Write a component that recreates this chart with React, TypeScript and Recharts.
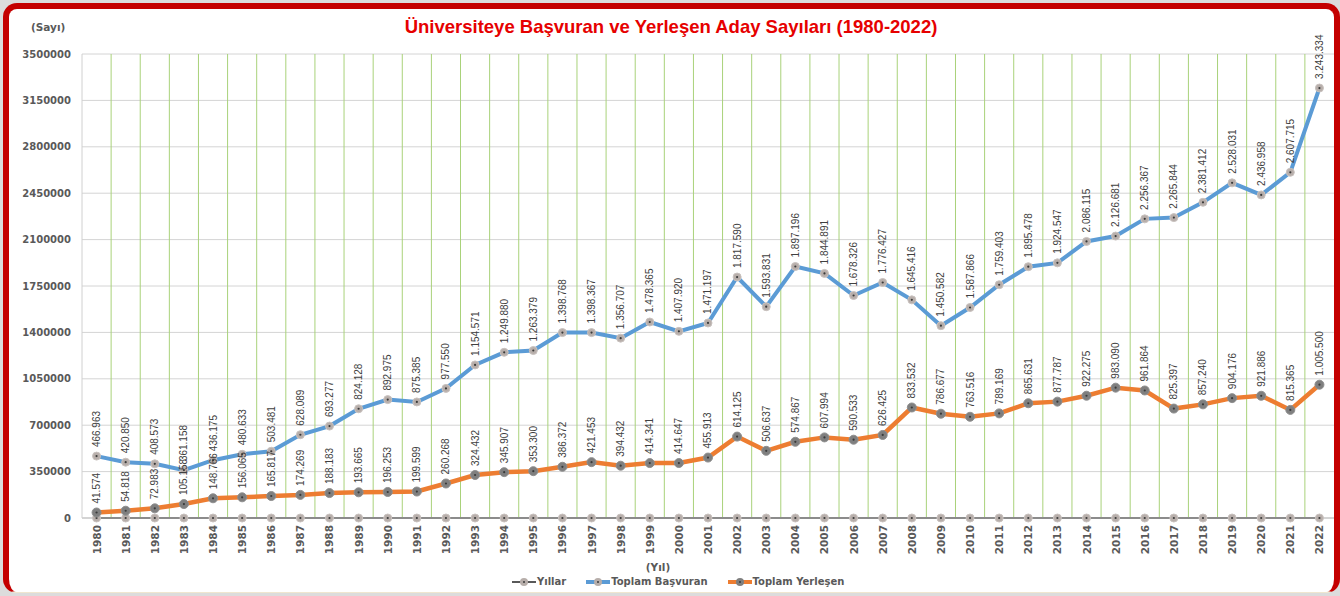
import React from 'react';
import { LineChart, Line, XAxis, YAxis, CartesianGrid } from 'recharts';

const years = [
  '1980', '1981', '1982', '1983', '1984', '1985', '1986', '1987', '1988', '1989',
  '1990', '1991', '1992', '1993', '1994', '1995', '1996', '1997', '1998', '1999',
  '2000', '2001', '2002', '2003', '2004', '2005', '2006', '2007', '2008', '2009',
  '2010', '2011', '2012', '2013', '2014', '2015', '2016', '2017', '2018', '2019',
  '2020', '2021', '2022',
];

const yillarValues = [
  0, 0, 0, 0, 0, 0, 0, 0, 0, 0,
  0, 0, 0, 0, 0, 0, 0, 0, 0, 0,
  0, 0, 0, 0, 0, 0, 0, 0, 0, 0,
  0, 0, 0, 0, 0, 0, 0, 0, 0, 0,
  0, 0, 0,
];

const toplamBasvuran = [
  466963, 420850, 408573, 361158, 436175, 480633, 503481, 628089, 693277, 824128,
  892975, 875385, 977550, 1154571, 1249880, 1263379, 1398768, 1398367, 1356707, 1478365,
  1407920, 1471197, 1817590, 1593831, 1897196, 1844891, 1678326, 1776427, 1645416, 1450582,
  1587866, 1759403, 1895478, 1924547, 2086115, 2126681, 2256367, 2265844, 2381412, 2528031,
  2436958, 2607715, 3243334,
];

const toplamYerlesen = [
  41574, 54818, 72983, 105158, 148766, 156065, 165817, 174269, 188183, 193665,
  196253, 199599, 260268, 324432, 345907, 353300, 386372, 421453, 394432, 414341,
  414647, 455913, 614125, 506637, 574867, 607994, 590533, 626425, 833532, 786677,
  763516, 789169, 865631, 877787, 922275, 983090, 961864, 825397, 857240, 904176,
  921886, 815365, 1005500,
];

const yTicks = [0, 350000, 700000, 1050000, 1400000, 1750000, 2100000, 2450000, 2800000, 3150000, 3500000];

const title = 'Üniversiteye Başvuran ve Yerleşen Aday Sayıları (1980-2022)';
const yAxisTitle = '(Sayı)';
const xAxisTitle = '(Yıl)';
const seriesNames = ['Yıllar', 'Toplam Başvuran', 'Toplam Yerleşen'];

const data = years.map((y, i) => ({
  year: y,
  yillar: yillarValues[i],
  basvuran: toplamBasvuran[i],
  yerlesen: toplamYerlesen[i],
}));

const BOLD_FONT = '"DejaVu Sans", Verdana, sans-serif';
const LABEL_FONT = '"Liberation Sans", Arial, sans-serif';

const fmt = (v: number) => String(v).replace(/\B(?=(\d{3})+(?!\d))/g, '.');

const makeDot = (fill: string, r: number, stroke: string) => (props: any) => {
  const { cx, cy, index } = props;
  if (cx == null || cy == null) return <g key={`e-${index}`} />;
  return (
    <g key={`d-${fill}-${index}`}>
      <circle cx={cx} cy={cy} r={r} fill={fill} stroke={stroke} strokeWidth={1} />
      <circle cx={cx} cy={cy} r={1.1} fill="#3a3a3a" />
    </g>
  );
};

const renderValueLabel = (props: any) => {
  const { x, y, value, index } = props;
  if (x == null || y == null) return null;
  const ly = y - 9;
  return (
    <text
      key={`l-${index}-${value}`}
      x={x}
      y={ly}
      transform={`rotate(-90, ${x}, ${ly})`}
      textAnchor="start"
      dominantBaseline="central"
      fontFamily={LABEL_FONT}
      fontSize={10}
      fill="#404040"
    >
      {fmt(Number(value))}
    </text>
  );
};

const XTick = (props: any) => {
  const { x, payload } = props;
  const ty = 525;
  return (
    <text
      x={x}
      y={ty}
      transform={`rotate(-90, ${x}, ${ty})`}
      textAnchor="end"
      dominantBaseline="central"
      fontFamily={BOLD_FONT}
      fontWeight="bold"
      fontSize={10.5}
      fill="#595959"
    >
      {payload.value}
    </text>
  );
};

const YTick = (props: any) => {
  const { y, payload } = props;
  return (
    <text
      x={71}
      y={y}
      textAnchor="end"
      dominantBaseline="central"
      fontFamily={BOLD_FONT}
      fontWeight="bold"
      fontSize={10}
      fill="#595959"
    >
      {payload.value}
    </text>
  );
};

const verticalGen = (args: any) => {
  const off = args && args.offset ? args.offset : { left: 82, width: 1252 };
  const n = years.length;
  const out: number[] = [];
  for (let k = 1; k < n; k++) out.push(off.left + (off.width * k) / n);
  return out;
};

const LegendMarker = ({ color, fill, thick }: { color: string; fill: string; thick: number }) => (
  <svg width={24} height={12} style={{ display: 'block' }}>
    <line x1={0} y1={6} x2={24} y2={6} stroke={color} strokeWidth={thick} />
    <circle cx={12} cy={6} r={4} fill={fill} />
    <circle cx={12} cy={6} r={1} fill="#3a3a3a" />
  </svg>
);

export default function App() {
  const legendItems = [
    { name: seriesNames[0], color: '#595959', fill: '#b7aeaa', thick: 2 },
    { name: seriesNames[1], color: '#5b9bd5', fill: '#b7aeaa', thick: 4 },
    { name: seriesNames[2], color: '#ed7d31', fill: '#7f7f7f', thick: 4 },
  ];
  return (
    <div
      style={{
        position: 'absolute',
        left: 0,
        top: 0,
        width: 1340,
        height: 596,
        background: '#dcdcdc',
        overflow: 'hidden',
      }}
    >
      <div
        style={{
          position: 'absolute',
          left: 3,
          top: 3,
          width: 1337,
          height: 590,
          boxSizing: 'border-box',
          border: '6px solid #c40000',
          borderBottom: '1px solid #f0e6d0',
          borderRadius: 14,
          background: '#ffffff',
        }}
      />
      <div
        style={{
          position: 'absolute',
          left: 0,
          width: 1342,
          top: 16,
          textAlign: 'center',
          fontFamily: '"Liberation Sans", Arial, sans-serif',
          fontWeight: 'bold',
          fontSize: 18.5,
          color: '#e60000',
          whiteSpace: 'nowrap',
          lineHeight: '22px',
        }}
      >
        {title}
      </div>
      <div
        style={{
          position: 'absolute',
          left: 31,
          top: 20,
          fontFamily: BOLD_FONT,
          fontWeight: 'bold',
          fontSize: 10.5,
          color: '#595959',
          lineHeight: '14px',
        }}
      >
        {yAxisTitle}
      </div>
      <div style={{ position: 'absolute', left: 0, top: 0 }}>
        <LineChart
          width={1340}
          height={596}
          data={data}
          margin={{ top: 54, right: 6, bottom: 0, left: 0 }}
        >
          <CartesianGrid vertical={false} stroke="#d4d4d4" strokeWidth={1} />
          <CartesianGrid
            horizontal={false}
            stroke="#a9d27a"
            strokeWidth={1}
            verticalCoordinatesGenerator={verticalGen}
          />
          <XAxis
            dataKey="year"
            height={78}
            interval={0}
            padding={{ left: 14.56, right: 14.56 }}
            tickLine={false}
            tickSize={0}
            axisLine={{ stroke: '#bfbfbf' }}
            tick={<XTick />}
          />
          <YAxis
            width={82}
            domain={[0, 3500000]}
            ticks={yTicks}
            interval={0}
            tickLine={false}
            tickSize={0}
            tickMargin={11}
            axisLine={{ stroke: '#d0d0d0' }}
            tick={<YTick />}
          />
          <Line
            type="linear"
            dataKey="yillar"
            name={seriesNames[0]}
            stroke="#595959"
            strokeWidth={1.8}
            dot={makeDot('#b7aeaa', 4, '#c9c2bf')}
            activeDot={false}
            isAnimationActive={false}
          />
          <Line
            type="linear"
            dataKey="basvuran"
            name={seriesNames[1]}
            stroke="#5b9bd5"
            strokeWidth={4}
            dot={makeDot('#b7aeaa', 4, '#c9c2bf')}
            activeDot={false}
            label={renderValueLabel}
            isAnimationActive={false}
          />
          <Line
            type="linear"
            dataKey="yerlesen"
            name={seriesNames[2]}
            stroke="#ed7d31"
            strokeWidth={4.5}
            dot={makeDot('#7f7f7f', 4.5, '#8f8f8f')}
            activeDot={false}
            label={renderValueLabel}
            isAnimationActive={false}
          />
        </LineChart>
      </div>
      <div
        style={{
          position: 'absolute',
          left: 658,
          top: 560,
          width: 100,
          marginLeft: -50,
          textAlign: 'center',
          fontFamily: BOLD_FONT,
          fontWeight: 'bold',
          fontSize: 10.5,
          color: '#595959',
          lineHeight: '14px',
        }}
      >
        {xAxisTitle}
      </div>
      <div
        style={{
          position: 'absolute',
          left: 512,
          top: 575,
          display: 'flex',
          alignItems: 'center',
          gap: 20,
          fontFamily: BOLD_FONT,
          fontWeight: 'bold',
          fontSize: 10,
          color: '#595959',
          lineHeight: '14px',
          whiteSpace: 'nowrap',
        }}
      >
        {legendItems.map((it) => (
          <div key={it.name} style={{ display: 'flex', alignItems: 'center', gap: 1 }}>
            <LegendMarker color={it.color} fill={it.fill} thick={it.thick} />
            <span>{it.name}</span>
          </div>
        ))}
      </div>
    </div>
  );
}
